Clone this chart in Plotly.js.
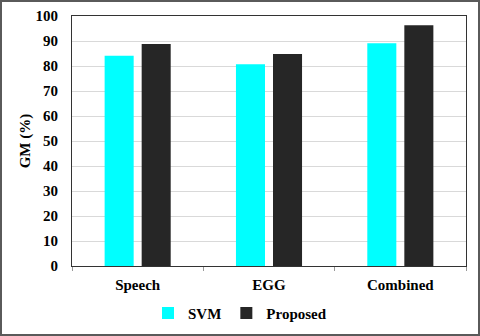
<!DOCTYPE html>
<html>
<head>
<meta charset="utf-8">
<script src="https://cdn.plot.ly/plotly-3.0.1.min.js"></script>
<style>
html,body{margin:0;padding:0;background:#fff;}
#wrap{position:relative;width:480px;height:336px;}
#chart{position:absolute;left:0;top:0;width:480px;height:336px;}
#frame{position:absolute;left:0;top:0;width:480px;height:336px;box-sizing:border-box;border:2px solid #5a5a5a;pointer-events:none;}
</style>
</head>
<body>
<div id="wrap"><div id="chart"></div><div id="frame"></div></div>
<script>
const categories = ["Speech", "EGG", "Combined"];
const svmValues = [84.1, 80.7, 89.1];
const proposedValues = [88.8, 84.8, 96.3];
const seriesNames = ["SVM", "Proposed"];
const yTicks = [0, 10, 20, 30, 40, 50, 60, 70, 80, 90, 100];

const fontFam = '"Liberation Serif", "Times New Roman", serif';
const boldFont = (size) => ({family: fontFam, size: size, color: '#000', weight: 700});

const traces = [
  {type: 'bar', name: seriesNames[0], x: categories, y: svmValues,
   marker: {color: '#00FFFF', line: {width: 0}}},
  {type: 'bar', name: seriesNames[1], x: categories, y: proposedValues,
   marker: {color: '#262626', line: {width: 0}}}
];

const layout = {
  width: 480, height: 336,
  margin: {l: 72, r: 14, t: 16, b: 70},
  paper_bgcolor: '#fff', plot_bgcolor: '#fff',
  barmode: 'group', bargap: 0.436, bargroupgap: 0.216,
  showlegend: true,
  legend: {orientation: 'h', xref: 'container', yref: 'container',
           x: 0.5, xanchor: 'center', y: 0.068, yanchor: 'middle',
           font: boldFont(15), itemwidth: 30, traceorder: 'normal'},
  xaxis: {type: 'category', showline: true, linecolor: '#333', linewidth: 1, mirror: true,
          ticks: 'outside', tickson: 'boundaries', ticklen: 4, tickcolor: '#999',
          tickfont: boldFont(15), ticklabelstandoff: 5, showgrid: false, automargin: false},
  yaxis: {range: [0, 100], tickvals: yTicks, ticktext: yTicks.map(String),
          showline: true, linecolor: '#333', linewidth: 1, mirror: true,
          gridcolor: '#d9d9d9', gridwidth: 1, zeroline: false,
          ticks: '', tickfont: boldFont(15), ticklabelstandoff: 10,
          title: {text: 'GM (%)', font: boldFont(15), standoff: 1}, automargin: false}
};

Plotly.newPlot('chart', traces, layout, {displayModeBar: false, staticPlot: true});
</script>
</body>
</html>
